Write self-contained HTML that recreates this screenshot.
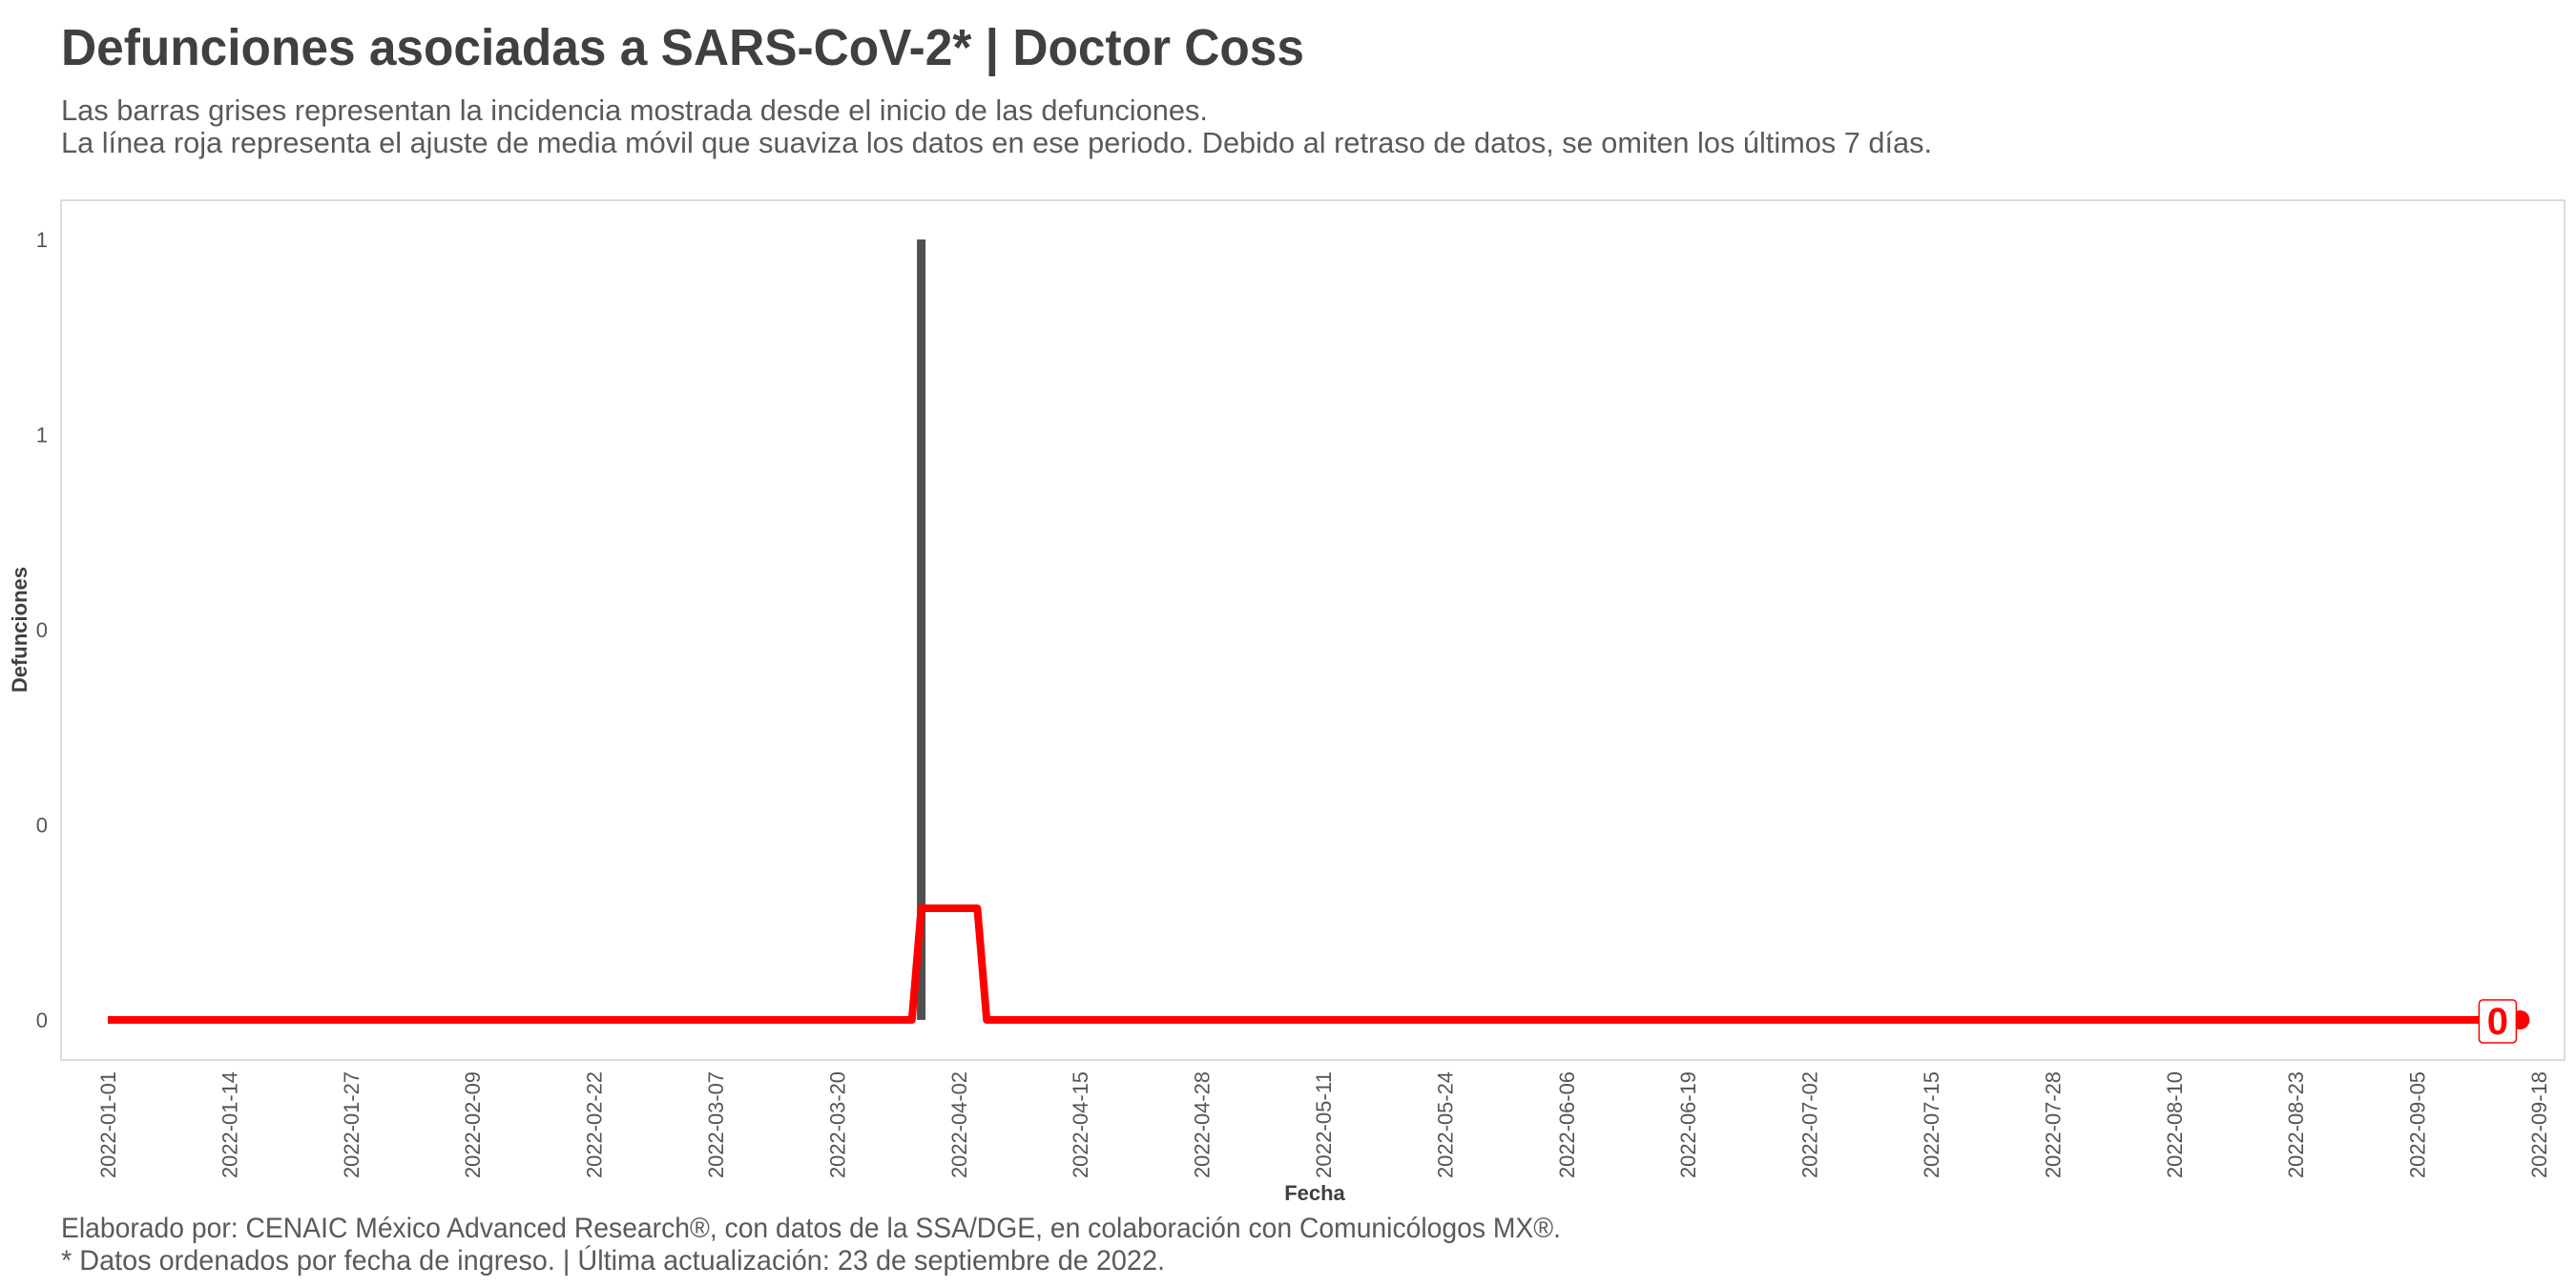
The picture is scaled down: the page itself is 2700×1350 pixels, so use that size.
<!DOCTYPE html>
<html><head><meta charset="utf-8"><style>
html,body{margin:0;padding:0;background:#fff;}
svg{display:block;font-family:"Liberation Sans",sans-serif;}
</style></head><body>
<svg id="chart" width="2700" height="1350" viewBox="0 0 2700 1350" xmlns="http://www.w3.org/2000/svg">
<text x="64" y="68" font-size="54" font-weight="bold" fill="#404040" textLength="1303" lengthAdjust="spacingAndGlyphs">Defunciones asociadas a SARS-CoV-2* | Doctor Coss</text>
<text x="64" y="126" font-size="31" fill="#5a5a5a" textLength="1202" lengthAdjust="spacingAndGlyphs">Las barras grises representan la incidencia mostrada desde el inicio de las defunciones.</text>
<text x="64" y="160" font-size="31" fill="#5a5a5a" textLength="1961" lengthAdjust="spacingAndGlyphs">La línea roja representa el ajuste de media móvil que suaviza los datos en ese periodo. Debido al retraso de datos, se omiten los últimos 7 días.</text>
<rect x="64" y="210" width="2624" height="901" fill="#fff" stroke="#dcdcdc" stroke-width="2"/>
<g id="bars"></g>
<g id="line"></g>
<g id="yticks"></g>
<g id="xticks"></g>
<text transform="translate(28,660) rotate(-90)" text-anchor="middle" font-size="22" font-weight="bold" fill="#404040">Defunciones</text>
<text x="1378" y="1258" text-anchor="middle" font-size="22" font-weight="bold" fill="#404040">Fecha</text>
<text x="64" y="1297" font-size="30" fill="#5a5a5a" textLength="1572" lengthAdjust="spacingAndGlyphs">Elaborado por: CENAIC México Advanced Research®, con datos de la SSA/DGE, en colaboración con Comunicólogos MX®.</text>
<text x="64" y="1331" font-size="30" fill="#5a5a5a" textLength="1157" lengthAdjust="spacingAndGlyphs">* Datos ordenados por fecha de ingreso. | Última actualización: 23 de septiembre de 2022.</text>
</svg>
<script>
const startDate = "2022-01-01";
const deaths = [
0,0,0,0,0,0,0,0,0,0,0,0,0,0,0,0,0,0,0,0,
0,0,0,0,0,0,0,0,0,0,0,0,0,0,0,0,0,0,0,0,
0,0,0,0,0,0,0,0,0,0,0,0,0,0,0,0,0,0,0,0,
0,0,0,0,0,0,0,0,0,0,0,0,0,0,0,0,0,0,0,0,
0,0,0,0,0,0,0,
1,
0,0,0,0,0,0,0,0,0,0,0,0,0,0,0,0,0,0,0,0,
0,0,0,0,0,0,0,0,0,0,0,0,0,0,0,0,0,0,0,0,
0,0,0,0,0,0,0,0,0,0,0,0,0,0,0,0,0,0,0,0,
0,0,0,0,0,0,0,0,0,0,0,0,0,0,0,0,0,0,0,0,
0,0,0,0,0,0,0,0,0,0,0,0,0,0,0,0,0,0,0,0,
0,0,0,0,0,0,0,0,0,0,0,0,0,0,0,0,0,0,0,0,
0,0,0,0,0,0,0,0,0,0,0,0,0,0,0,0,0,0,0,0,
0,0,0,0,0,0,0,0,0,0,0,0,0,0,0,0,0,0,0,0,
0,0,0,0,0,0,0,0,0,0,0
];
const movingAvg = [
0,0,0,0,0,0,0,0,0,0,0,0,0,0,0,0,0,0,0,0,
0,0,0,0,0,0,0,0,0,0,0,0,0,0,0,0,0,0,0,0,
0,0,0,0,0,0,0,0,0,0,0,0,0,0,0,0,0,0,0,0,
0,0,0,0,0,0,0,0,0,0,0,0,0,0,0,0,0,0,0,0,
0,0,0,0,0,0,0,
0.143,0.143,0.143,0.143,0.143,0.143,0.143,
0,0,0,0,0,0,0,0,0,0,0,0,0,0,0,0,0,0,0,0,
0,0,0,0,0,0,0,0,0,0,0,0,0,0,0,0,0,0,0,0,
0,0,0,0,0,0,0,0,0,0,0,0,0,0,0,0,0,0,0,0,
0,0,0,0,0,0,0,0,0,0,0,0,0,0,0,0,0,0,0,0,
0,0,0,0,0,0,0,0,0,0,0,0,0,0,0,0,0,0,0,0,
0,0,0,0,0,0,0,0,0,0,0,0,0,0,0,0,0,0,0,0,
0,0,0,0,0,0,0,0,0,0,0,0,0,0,0,0,0,0,0,0,
0,0,0,0,0,0,0,0,0,0,0,0,0,0,0,0,0,0,0,0,
0,0,0,0,0
];
const yTicks = [0, 0.25, 0.5, 0.75, 1];
const yTickLabels = ["0", "0", "0", "1", "1"];
const xTickLabels = ["2022-01-01","2022-01-14","2022-01-27","2022-02-09","2022-02-22","2022-03-07","2022-03-20","2022-04-02","2022-04-15","2022-04-28","2022-05-11","2022-05-24","2022-06-06","2022-06-19","2022-07-02","2022-07-15","2022-07-28","2022-08-10","2022-08-23","2022-09-05","2022-09-18"];

const NS = "http://www.w3.org/2000/svg";
const DAY = 86400000;
const t0 = Date.parse(startDate);
function dayIdx(s){ return (Date.parse(s) - t0) / DAY; }
function xScale(d){ return 113 + d * 9.8; }
function yScale(v){ return 1069 - v * 818; }

const bars = document.getElementById('bars');
deaths.forEach((v, i) => {
  if (v <= 0) return;
  const r = document.createElementNS(NS, 'rect');
  r.setAttribute('x', xScale(i) - 4.5);
  r.setAttribute('y', yScale(v));
  r.setAttribute('width', 9);
  r.setAttribute('height', yScale(0) - yScale(v));
  r.setAttribute('fill', '#505050');
  
  
  bars.appendChild(r);
});

const lineG = document.getElementById('line');
const pts = movingAvg.map((v, i) => xScale(i).toFixed(1) + ',' + yScale(v).toFixed(1)).join(' ');
const pl = document.createElementNS(NS, 'polyline');
pl.setAttribute('points', pts);
pl.setAttribute('fill', 'none');
pl.setAttribute('stroke', '#ff0000');
pl.setAttribute('stroke-width', '8');
pl.setAttribute('stroke-linejoin', 'round');


lineG.appendChild(pl);
const li = movingAvg.length - 1;
const lx = xScale(li), ly = yScale(movingAvg[li]);
const dot = document.createElementNS(NS, 'circle');
dot.setAttribute('cx', lx); dot.setAttribute('cy', ly); dot.setAttribute('r', 10);
dot.setAttribute('fill', '#ff0000');


lineG.appendChild(dot);
const box = document.createElementNS(NS, 'rect');
box.setAttribute('x', lx - 43); box.setAttribute('y', ly - 21);
box.setAttribute('width', 39); box.setAttribute('height', 45); box.setAttribute('rx', 4);
box.setAttribute('fill', '#fff'); box.setAttribute('stroke', '#ff0000'); box.setAttribute('stroke-width', '1.5');


lineG.appendChild(box);
const lt = document.createElementNS(NS, 'text');
lt.setAttribute('x', lx - 23.5); lt.setAttribute('y', ly + 15);
lt.setAttribute('text-anchor', 'middle'); lt.setAttribute('font-size', '40');
lt.setAttribute('font-weight', 'bold'); lt.setAttribute('fill', '#ff0000');
lt.textContent = String(Math.round(movingAvg[li]));


lineG.appendChild(lt);

const yg = document.getElementById('yticks');
yTicks.forEach((v, i) => {
  const t = document.createElementNS(NS, 'text');
  t.setAttribute('x', 50); t.setAttribute('y', yScale(v) + 8);
  t.setAttribute('text-anchor', 'end'); t.setAttribute('font-size', '22'); t.setAttribute('fill', '#555');
  t.textContent = yTickLabels[i];
  
  
  yg.appendChild(t);
});

const xg = document.getElementById('xticks');
xTickLabels.forEach(s => {
  const x = xScale(dayIdx(s));
  const t = document.createElementNS(NS, 'text');
  t.setAttribute('transform', 'translate(' + (x + 8) + ',1123) rotate(-90)');
  t.setAttribute('text-anchor', 'end'); t.setAttribute('font-size', '22'); t.setAttribute('fill', '#555');
  t.setAttribute('textLength', '112'); t.setAttribute('lengthAdjust', 'spacingAndGlyphs');
  t.textContent = s;
  
  
  xg.appendChild(t);
});
</script>
</body></html>
